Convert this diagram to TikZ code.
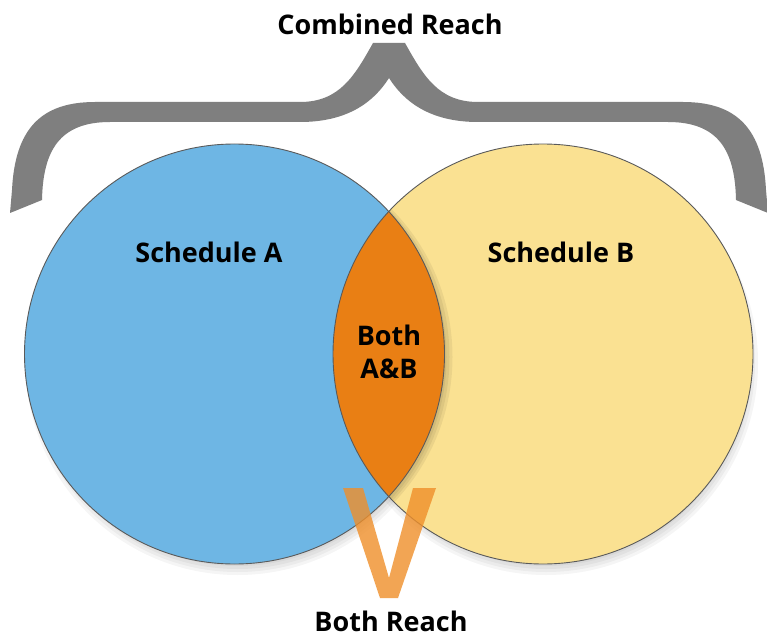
\documentclass[tikz,border=0pt]{standalone}
\usepackage{fontspec}
\setmainfont{Open Sans}
\definecolor{schedblue}{HTML}{6EB6E4}
\definecolor{schedyellow}{HTML}{FAE192}
\definecolor{bothorange}{HTML}{E97F14}
\definecolor{vorange}{HTML}{EF8F2A}
\definecolor{bracegray}{HTML}{7F7F7F}
\definecolor{rimgray}{HTML}{5A5A5A}
\begin{document}
\begin{tikzpicture}[ x=1pt, y=-1pt,
	  label/.style={ font=\fontsize{27}{30}\selectfont\bfseries, inner sep=0pt, anchor=base },
	  rim/.style={ draw=rimgray, line width=0.9pt } ]
	  \useasboundingbox (0,0) rectangle (767,636);
	  \fill [ white ] (0,0) rectangle (767,636);

	  \coordinate (cA) at (234.5,354);
	  \coordinate (cB) at (543,354);

	  \fill [ bracegray ] (389,43)--(373,43) .. controls (355,75) and (340,102) .. (300,102)
	    --(95,102) .. controls (40,102) and (15,130) .. (12,190)--(10,213)--(42,200)
	    .. controls (43,150) and (60,122) .. (110,122)--(300,122)
	    .. controls (350,122) and (375,100) .. (389,78)
	    .. controls (403,100) and (428,122) .. (478,122)--(668,122)
	    .. controls (718,122) and (735,150) .. (736,200)--(768,213)--(766,190)
	    .. controls (763,130) and (738,102) .. (683,102)--(478,102)
	    .. controls (438,102) and (423,75) .. (405,43)--cycle;

	  \foreach \s in {0,3,6,9,12} {
	    \fill [ black, opacity=0.04 ] ([xshift=3pt, yshift=-9pt]cA) circle [ radius=200pt+\s pt ];
	    \fill [ black, opacity=0.04 ] ([xshift=3pt, yshift=-9pt]cB) circle [ radius=200pt+\s pt ];
	  }

	  \fill [ schedblue ] (cA) circle [ radius=210pt ];
	  \fill [ schedyellow ] (cB) circle [ radius=210pt ];

	  \begin{scope}
	    \clip (cB) circle [ radius=210pt ];
	    \foreach \s in {2,5,8} {
	      \fill [ black, opacity=0.06 ] ([xshift=\s pt, yshift=-3pt]cA) circle [ radius=210pt ];
	    }
	  \end{scope}
	  \begin{scope}
	    \clip (cA) circle [ radius=210pt ];
	    \fill [ bothorange ] (cB) circle [ radius=210pt ];
	  \end{scope}

	  \draw [ rim ] (cA) circle [ radius=210pt ];
	  \draw [ rim ] (cB) circle [ radius=210pt ];

	  \fill [ vorange, opacity=0.8 ] (343,488)--(363,488)--(389,578)--(413,488)--(436,488)
	    --(398,598)--(380,598)--cycle;

	  \node [ label ] (combined) at (390,35) { Combined Reach };
	  \node [ label ] (schedA) at (209,262) { Schedule A };
	  \node [ label ] (schedB) at (561,262) { Schedule B };
	  \node [ label ] (both) at (389,345) { Both };
	  \node [ label ] (aandb) at (389,378) { A\&B };
	  \node [ label ] (bothreach) at (391,631) { Both Reach };
	\end{tikzpicture}
\end{document}
